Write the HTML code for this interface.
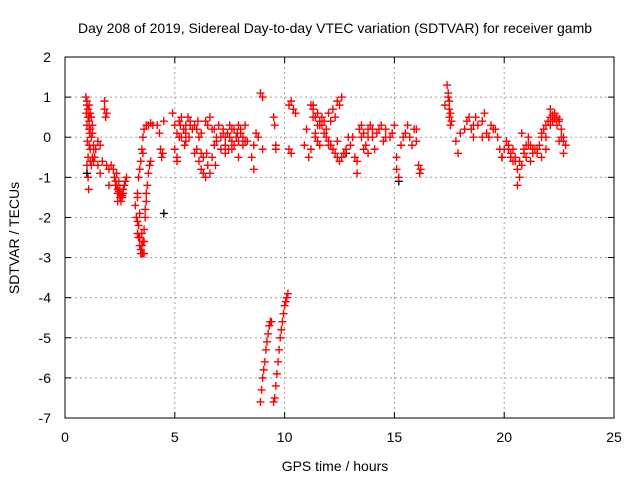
<!DOCTYPE html>
<html><head><meta charset="utf-8"><style>
body{margin:0;background:#fff}
svg{display:block;font-family:"Liberation Sans",sans-serif}
</style></head><body>
<svg id="c" width="640" height="480"></svg>
<script>
const xTicks=[0,5,10,15,20,25];
const yTicks=[2,1,0,-1,-2,-3,-4,-5,-6,-7];
const times=[0.95,0.97,1.0,1.0,1.02,1.05,1.05,1.08,1.1,1.1,1.12,1.15,1.15,1.2,1.2,1.25,1.25,1.3,1.3,1.35,
1.4,1.5,1.5,1.6,1.6,1.7,1.8,1.8,1.85,1.9,1.9,2.0,2.0,2.1,
2.2,2.25,2.3,2.35,2.4,2.45,2.5,2.55,2.6,2.65,2.7,2.75,2.8,2.4,2.5,
3.2,3.25,3.3,3.35,3.4,3.45,3.5,3.55,3.6,3.65,3.7,3.75,3.8,3.85,3.9,3.3,3.35,3.5,3.55,3.6,
3.3,3.35,3.4,3.45,3.5,3.55,3.6,3.7,3.8,3.9,4.0,
4.3,4.35,4.4,4.45,4.2,4.5,
4.9,5.0,5.0,5.1,5.1,5.2,5.3,5.4,5.5,5.5,5.6,5.7,5.8,5.1,5.2,
5.9,6.0,6.0,6.1,6.2,6.2,6.3,6.4,6.5,6.6,6.7,6.8,6.9,7.0,6.4,6.6,
7.1,7.2,7.3,7.4,7.5,7.6,7.7,7.8,7.9,8.0,8.1,8.2,7.3,7.6,7.9,8.0,
8.5,8.6,8.7,8.8,8.9,9.0,9.0,8.6,
8.9,8.95,9.0,9.05,9.1,9.15,9.2,9.25,9.3,9.35,9.4,
9.5,9.55,9.6,9.65,9.7,9.75,9.8,9.85,9.9,9.95,10.0,10.05,10.1,10.15,
9.5,9.55,9.6,10.2,10.3,10.4,10.5,10.2,10.3,9.6,
10.9,11.0,11.1,11.2,11.3,11.4,11.5,11.6,11.7,11.8,11.9,12.0,12.1,12.2,12.3,12.4,12.5,12.6,12.7,12.8,11.2,11.4,11.6,11.8,12.0,12.2,12.4,12.6,11.3,11.5,12.9,13.0,
13.1,13.2,13.3,13.4,13.5,13.6,13.7,13.8,13.9,14.0,14.2,14.4,14.6,14.8,13.3,13.5,13.8,14.1,14.5,
15.0,15.1,15.2,15.3,15.5,15.6,15.8,15.9,16.1,16.15,16.2,15.1,16.0,
17.4,17.45,17.5,17.5,17.55,17.6,17.3,
17.8,17.9,18.0,18.3,18.4,18.5,18.6,18.8,19.0,19.1,19.2,19.4,19.6,19.8,19.9,19.0,18.7,
20.0,20.1,20.2,20.3,20.4,20.5,20.6,20.7,20.8,20.9,21.0,21.1,21.2,21.3,21.4,20.6,20.8,21.0,
21.5,21.6,21.7,21.8,21.9,22.0,22.1,22.2,22.3,22.4,22.5,22.6,22.7,22.8,21.7,21.9,22.1,22.5,22.7];
const values=[1.0,0.6,0.9,0.3,-0.1,-0.5,-1.0,-1.3,0.8,0.4,0.1,-0.6,0.6,0.5,-0.7,0.3,-0.5,-0.2,-0.6,-0.5,
-0.3,-0.1,-0.7,-0.2,-0.9,-0.6,0.9,0.7,0.5,0.6,-0.7,-0.8,-1.2,-0.7,
-0.8,-1.0,-1.1,-1.2,-1.3,-1.35,-1.4,-1.5,-1.45,-1.3,-1.2,-1.1,-1.0,-1.6,-1.5,
-1.7,-2.0,-2.4,-2.5,-2.7,-2.8,-2.9,-2.6,-2.3,-2.0,-1.6,-1.2,-0.9,-0.7,-0.6,-1.5,-2.2,-2.4,-2.9,-2.9,
-1.4,-1.0,-0.8,-0.6,-0.3,0.0,0.2,0.3,0.3,0.35,0.3,
0.1,-0.3,-0.5,-0.4,0.3,0.4,
0.6,0.3,-0.3,-0.5,0.1,0.4,0.5,0.2,0.3,-0.1,0.5,0.4,0.2,-0.6,0.0,
0.3,0.2,-0.3,-0.6,-0.8,0.1,-0.9,-1.0,0.3,0.5,-0.5,0.2,-0.1,0.3,0.4,-0.9,
0.0,0.2,-0.2,0.1,0.3,-0.1,0.2,0.0,0.3,0.1,-0.2,0.3,-0.4,-0.3,-0.5,0.2,
-0.5,-0.2,0.1,0.0,1.1,1.0,-0.3,-0.8,
-6.6,-6.3,-6.0,-5.8,-5.6,-5.3,-5.1,-4.9,-4.7,-4.6,-4.6,
-6.6,-6.5,-6.2,-5.9,-5.6,-5.3,-5.0,-4.8,-4.6,-4.4,-4.2,-4.1,-4.0,-3.9,
0.5,0.3,-0.2,0.8,0.9,0.7,0.6,-0.3,-0.4,-0.3,
-0.2,0.2,-0.5,0.8,0.7,0.5,0.6,0.4,0.3,0.1,0.0,-0.1,-0.2,-0.3,-0.4,-0.5,-0.6,-0.5,-0.4,-0.3,-0.3,0.0,0.3,0.4,0.6,0.7,0.9,1.0,0.8,-0.1,0.0,-0.2,
0.0,-0.5,-0.9,0.2,0.3,0.1,-0.2,0.2,0.3,0.2,0.1,0.3,0.2,0.0,-0.6,0.0,-0.4,-0.3,-0.1,
0.3,-0.5,-1.0,-0.2,0.1,0.3,-0.2,0.2,-0.7,-0.9,-0.8,-0.8,0.2,
1.3,1.0,0.7,0.5,0.3,0.4,0.8,
-0.1,-0.4,0.1,0.4,0.5,0.2,0.0,0.3,0.4,0.6,0.1,0.3,0.2,-0.3,-0.5,0.0,0.5,
-0.3,-0.1,-0.3,-0.4,-0.6,-0.5,-1.2,-1.0,-0.7,-0.4,-0.2,0.0,-0.2,-0.4,-0.3,-0.8,0.1,-0.5,
-0.4,-0.2,0.0,0.2,0.3,0.4,0.5,0.55,0.6,0.5,0.4,0.2,0.0,-0.2,-0.5,-0.3,0.7,-0.1,-0.4];
const extraTimes=[1.0,1.05,1.1,1.15,1.2,1.0,1.05,1.1,1.15,1.25,1.3,1.1,
2.3,2.4,2.5,2.6,2.45,2.55,2.35,2.65,
3.3,3.4,3.5,3.6,3.45,3.65,3.7,3.4,3.55,
5.3,5.5,5.7,5.9,6.1,6.3,6.5,6.7,6.9,7.1,7.3,7.5,7.7,7.9,8.1,8.3,6.2,6.8,7.2,7.6,8.2,
5.25,5.45,5.65,6.05,6.45,6.85,7.45,7.85,
11.3,11.5,11.7,11.9,12.1,12.3,12.5,11.4,11.6,12.0,12.4,12.7,
13.6,13.8,14.0,14.3,14.6,14.9,15.4,15.7,16.0,
17.45,17.5,17.55,18.2,18.6,19.3,19.5,19.7,
20.2,20.4,20.5,20.7,20.9,21.1,21.3,21.5,21.7,21.9,22.1,22.3,22.5,22.6,22.7,22.2,22.4,21.2,20.3];
const extraValues=[0.8,0.5,0.2,-0.3,0.0,-0.7,0.7,-0.2,0.2,0.1,-0.3,0.5,
-1.2,-1.4,-1.3,-1.5,-1.1,-1.6,-0.9,-1.4,
-2.1,-2.5,-2.7,-2.6,-2.9,-1.8,-1.4,-1.9,-0.4,
0.0,0.1,0.3,-0.4,0.0,-0.5,-0.7,0.2,0.0,-0.3,0.0,0.0,-0.2,-0.1,0.0,-0.1,-0.4,-0.2,0.1,0.2,-0.1,
0.3,-0.2,0.0,0.4,-0.4,-0.7,-0.3,0.1,
0.5,0.3,0.5,0.2,0.4,0.5,0.8,0.1,-0.2,-0.2,-0.1,-0.4,
-0.3,0.0,0.0,0.2,0.0,0.1,0.0,0.0,-0.1,
1.1,0.9,0.6,0.2,0.3,0.0,0.2,0.0,
-0.2,-0.3,-0.6,-0.6,-0.3,-0.2,-0.3,-0.3,0.1,0.0,0.3,0.45,0.45,0.0,-0.1,0.4,0.3,-0.6,-0.5];
const blackTimes=[4.5,1.0,12.8,19.9,15.2];
const blackValues=[-1.9,-0.9,-0.4,-0.5,-1.1];

const L=65,R=614,T=57,B=418;
const sx=t=>L+(t-0)/25*(R-L);
const sy=v=>T+(2-v)/9*(B-T);
const svg=document.getElementById('c');
const NS='http://www.w3.org/2000/svg';
function mk(tag,attrs,parent){const e=document.createElementNS(NS,tag);for(const k in attrs)e.setAttribute(k,attrs[k]);(parent||svg).appendChild(e);return e;}
xTicks.forEach(t=>{if(t>0&&t<25){const g=mk('line',{x1:sx(t),x2:sx(t),y1:T,y2:B,stroke:'#a0a0a0','stroke-dasharray':'2,3'});

}});
yTicks.forEach(v=>{if(v<2&&v>-7){const g=mk('line',{x1:L,x2:R,y1:sy(v),y2:sy(v),stroke:'#a0a0a0','stroke-dasharray':'2,3'});

}});
xTicks.forEach(t=>{const x=sx(t);
mk('line',{x1:x,x2:x,y1:B,y2:B-6,stroke:'#000'});mk('line',{x1:x,x2:x,y1:T,y2:T+6,stroke:'#000'});
const tx=mk('text',{x:x,y:B+24,'text-anchor':'middle','font-size':14});tx.textContent=t;

});
yTicks.forEach(v=>{const y=sy(v);
mk('line',{x1:L,x2:L+6,y1:y,y2:y,stroke:'#000'});mk('line',{x1:R,x2:R-6,y1:y,y2:y,stroke:'#000'});
const tx=mk('text',{x:L-14,y:y+5,'text-anchor':'end','font-size':14});tx.textContent=v;

});
const frame=mk('rect',{x:L,y:T,width:R-L,height:B-T,fill:'none',stroke:'#000'});


function plus(t,v,color,name){const x=sx(t),y=sy(v);
const p=mk('path',{d:`M${x-4},${y}H${x+4}M${x},${y-4}V${y+4}`,stroke:color,'stroke-width':1.4,fill:'none'});

}
blackTimes.forEach((t,i)=>plus(t,blackValues[i],'#000','measured-point'));
times.forEach((t,i)=>plus(t,values[i],'#f00','sdtvar-point'));
extraTimes.forEach((t,i)=>plus(t,extraValues[i],'#f00','sdtvar-point'));
const title=mk('text',{x:335,y:33,'text-anchor':'middle','font-size':14});title.textContent='Day 208 of 2019, Sidereal Day-to-day VTEC variation (SDTVAR) for receiver gamb';


const xl=mk('text',{x:335,y:471,'text-anchor':'middle','font-size':14});xl.textContent='GPS time / hours';


const yl=mk('text',{x:19,y:238,'text-anchor':'middle','font-size':14,transform:'rotate(-90 19 238)'});yl.textContent='SDTVAR / TECUs';


</script>
</body></html>
